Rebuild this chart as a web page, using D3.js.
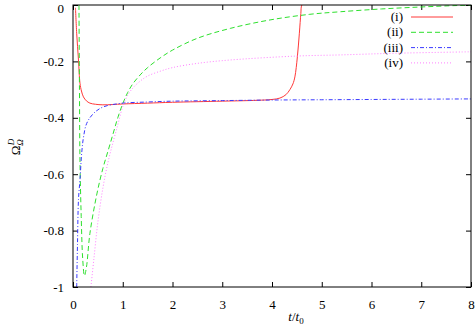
<!DOCTYPE html>
<html>
<head>
<meta charset="utf-8">
<script src="https://cdn.jsdelivr.net/npm/d3@7"></script>
<style>
  body { margin: 0; background: #fff; }
  text { font-family: "Liberation Serif", "DejaVu Serif", serif; fill: #000; }
</style>
</head>
<body>
<div id="chart"></div>
<script>
// curve (i)
const tI = [0.05, 0.074, 0.11, 0.14, 0.17, 0.21, 0.27, 0.34, 0.45, 0.6, 0.8, 1.0, 1.5, 2.0, 3.0, 3.7, 4.0, 4.16, 4.28, 4.36, 4.42, 4.46, 4.51, 4.55, 4.58, 4.6, 4.7];
const yI = [-0.01, -0.1, -0.195, -0.277, -0.305, -0.326, -0.34, -0.348, -0.352, -0.354, -0.353, -0.351, -0.348, -0.345, -0.341, -0.338, -0.335, -0.33, -0.318, -0.3, -0.28, -0.255, -0.184, -0.1, -0.03, 0.0, 0.02];
// curve (ii)
const tII = [0.12, 0.13, 0.14, 0.165, 0.195, 0.23, 0.27, 0.34, 0.48, 0.6, 0.7, 0.8, 0.9, 1.0, 1.1, 1.2, 1.35, 1.5, 1.75, 2.0, 2.5, 3.16, 3.96, 4.76, 5.37, 6.2, 7.0, 7.7, 8.0];
const yII = [0.0, -0.3, -0.55, -0.75, -0.9, -0.96, -0.93, -0.81, -0.67, -0.58, -0.52, -0.46, -0.4, -0.35, -0.31, -0.28, -0.248, -0.222, -0.188, -0.16, -0.118, -0.083, -0.053, -0.033, -0.024, -0.014, -0.007, -0.002, -0.001];
// curve (iii)
const tIII = [0.074, 0.09, 0.11, 0.14, 0.175, 0.21, 0.275, 0.41, 0.6, 0.95, 1.5, 2.0, 3.0, 4.0, 5.0, 6.0, 7.0, 8.0];
const yIII = [-1.0, -0.85, -0.69, -0.62, -0.525, -0.47, -0.42, -0.385, -0.362, -0.349, -0.344, -0.341, -0.339, -0.337, -0.336, -0.335, -0.334, -0.333];
// curve (iv)
const tIV = [0.36, 0.42, 0.5, 0.6, 0.7, 0.8, 0.9, 1.0, 1.1, 1.2, 1.35, 1.5, 1.75, 2.0, 2.5, 3.16, 4.5, 5.37, 6.5, 8.0];
const yIV = [-1.0, -0.9, -0.77, -0.65, -0.56, -0.49, -0.425, -0.36, -0.32, -0.295, -0.27, -0.252, -0.235, -0.222, -0.207, -0.195, -0.181, -0.177, -0.171, -0.166];

const xTicks = [0, 1, 2, 3, 4, 5, 6, 7, 8];
const yTicks = [0, -0.2, -0.4, -0.6, -0.8, -1];
const seriesNames = ["(i)", "(ii)", "(iii)", "(iv)"];
const seriesColors = ["#ff3838", "#2ee02e", "#3a3aff", "#ff80ff"];
const seriesDash = [null, "5,3", "4,2,1,2", "1,2"];

const W = 475, H = 331;
const margin = { top: 5, right: 4, bottom: 44, left: 73 };
const width = W - margin.left - margin.right;
const height = H - margin.top - margin.bottom;

const svg = d3.select("#chart").append("svg")
    .attr("width", W)
    .attr("height", H);

const plot = svg.append("g")
    .attr("transform", `translate(${margin.left},${margin.top})`);

const xScale = d3.scaleLinear().domain([0, 8]).range([0, width]);
const yScale = d3.scaleLinear().domain([-1, 0]).range([height, 0]);

svg.append("defs").append("clipPath").attr("id", "clip")
    .append("rect").attr("width", width).attr("height", height);

// axes with inward ticks, mirrored
const fmt = d => (d === 0 ? "0" : d3.format("")(d).replace("−", "-"));
const styleAxis = g => {
    g.select(".domain").remove();
    g.selectAll(".tick line").attr("stroke", "#000");
    g.selectAll("text").style("font-size", "13px");
};

plot.append("g")
    .attr("transform", `translate(0,${height})`)
    .call(d3.axisBottom(xScale).tickValues(xTicks).tickSize(-5).tickPadding(13).tickFormat(d3.format("d")))
    .call(styleAxis);

plot.append("g")
    .call(d3.axisTop(xScale).tickValues(xTicks).tickSize(-5).tickFormat(""))
    .call(styleAxis);

plot.append("g")
    .call(d3.axisLeft(yScale).tickValues(yTicks).tickSize(-5).tickPadding(9).tickFormat(fmt))
    .call(styleAxis)
    .selectAll(".tick text")
    .attr("dy", d => (d === 0 ? "0.55em" : "0.32em"));

plot.append("g")
    .attr("transform", `translate(${width},0)`)
    .call(d3.axisRight(yScale).tickValues(yTicks).tickSize(-5).tickFormat(""))
    .call(styleAxis);

// lines
const series = [[tI, yI], [tII, yII], [tIII, yIII], [tIV, yIV]];
const line = d3.line()
    .x(d => xScale(d[0]))
    .y(d => yScale(d[1]))
    .curve(d3.curveCatmullRom.alpha(0.5));

const lines = plot.append("g").attr("clip-path", "url(#clip)");
series.forEach((s, i) => {
    lines.append("path")
        .datum(d3.zip(s[0], s[1]))
        .attr("fill", "none")
        .attr("stroke", seriesColors[i])
        .attr("stroke-width", 1)
        .attr("stroke-dasharray", seriesDash[i])
        .attr("d", line);
});

// frame
plot.append("rect")
    .attr("width", width)
    .attr("height", height)
    .attr("fill", "none")
    .attr("stroke", "#000")
    .attr("stroke-width", 1);

// legend
const legend = plot.append("g");
seriesNames.forEach((name, i) => {
    const y = 12 + i * 15.3;
    legend.append("text")
        .attr("x", 330)
        .attr("y", y + 4)
        .attr("text-anchor", "end")
        .style("font-size", "13px")
        .text(name);
    legend.append("line")
        .attr("x1", 338).attr("x2", 380)
        .attr("y1", y).attr("y2", y)
        .attr("stroke", seriesColors[i])
        .attr("stroke-width", 1)
        .attr("stroke-dasharray", seriesDash[i]);
});

// axis labels
const xl = svg.append("text")
    .attr("x", 296)
    .attr("y", 321)
    .attr("text-anchor", "middle")
    .style("font-size", "13px");
xl.append("tspan").style("font-style", "italic").text("t");
xl.append("tspan").text("/");
xl.append("tspan").style("font-style", "italic").text("t");
xl.append("tspan").attr("dy", 3).style("font-size", "9px").text("0");

const yl = svg.append("text")
    .attr("transform", "translate(20,147) rotate(-90)")
    .attr("text-anchor", "middle")
    .style("font-size", "13px");
yl.append("tspan").text("Ω");
yl.append("tspan").attr("dy", 3).style("font-size", "9px").style("font-style", "italic").text("Ω");
yl.append("tspan").attr("dx", -6).attr("dy", -9).style("font-size", "9px").style("font-style", "italic").text("D");
</script>
</body>
</html>
